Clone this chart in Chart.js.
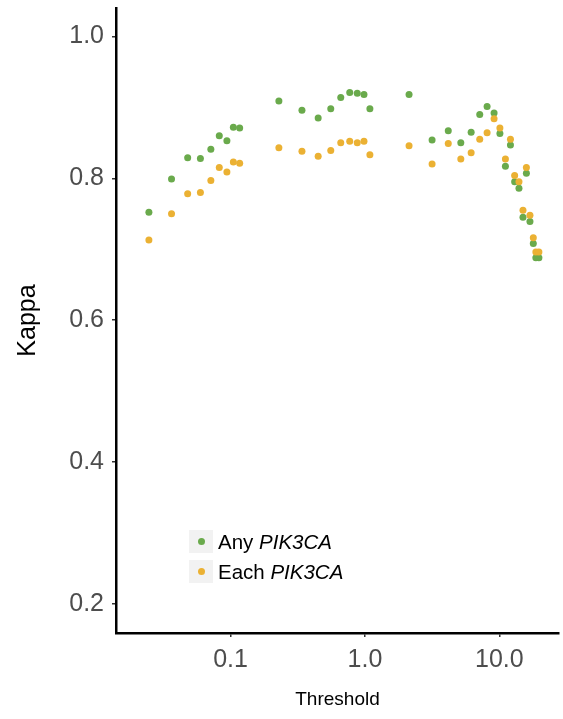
<!DOCTYPE html>
<html>
<head>
<meta charset="utf-8">
<script src="https://cdn.jsdelivr.net/npm/chart.js@4.4.1/dist/chart.umd.min.js"></script>
<style>
  body { margin: 0; background: #fff; }
  #wrap { position: relative; width: 563px; height: 719px; }
  #legend { position: absolute; left: 189px; top: 530px; font-family: "Liberation Sans", Arial, sans-serif; font-size: 20.5px; color: #000; }
  .row { display: flex; align-items: center; height: 23px; margin-bottom: 7px; }
  .key { width: 24px; height: 23px; background: #f2f2f2; position: relative; margin-right: 5px; }
  .key span { position: absolute; left: 9px; top: 8px; width: 7px; height: 7px; border-radius: 50%; }
</style>
</head>
<body>
<div id="wrap">
  <canvas id="mycanvas" width="563" height="719"></canvas>
  <div id="legend">
    <div class="row"><div class="key"><span style="background:#6aaa4c"></span></div>Any&nbsp;<i>PIK3CA</i></div>
    <div class="row"><div class="key"><span style="background:#ebb133"></span></div>Each&nbsp;<i>PIK3CA</i></div>
  </div>
</div>
<script>
// thresholds (log scale)
var thresholds = [0.0247, 0.0364, 0.048, 0.0597, 0.0714, 0.0825, 0.094, 0.105, 0.117, 0.229, 0.340,
  0.449, 0.557, 0.661, 0.771, 0.877, 0.984, 1.089, 2.13, 3.16, 4.17, 5.17, 6.17, 7.15, 8.11, 9.14,
  10.1, 11.1, 12.1, 13.0, 14.0, 15.0, 15.9, 16.9, 17.9, 18.7, 19.7];

var anyKappa = [0.752, 0.799, 0.829, 0.828, 0.841, 0.860, 0.853, 0.872, 0.871, 0.909, 0.896,
  0.885, 0.898, 0.914, 0.921, 0.920, 0.918, 0.898, 0.918, 0.854, 0.867, 0.850, 0.865, 0.890, 0.901, 0.892,
  0.863, 0.817, 0.847, 0.795, 0.786, 0.745, 0.807, 0.739, 0.708, 0.688, 0.688];

var eachKappa = [0.713, 0.750, 0.778, 0.780, 0.797, 0.815, 0.809, 0.823, 0.821, 0.843, 0.838,
  0.831, 0.839, 0.850, 0.852, 0.850, 0.852, 0.833, 0.846, 0.820, 0.849, 0.827, 0.836, 0.855, 0.864, 0.884,
  0.871, 0.827, 0.855, 0.804, 0.795, 0.755, 0.815, 0.748, 0.716, 0.696, 0.696];

var xTicks = [0.1, 1, 10];
var xTickLabels = ["0.1", "1.0", "10.0"];
var yTicks = [0.2, 0.4, 0.6, 0.8, 1.0];
var yTickLabels = ["0.2", "0.4", "0.6", "0.8", "1.0"];

function toPoints(xs, ys) {
  var pts = [];
  for (var i in xs) {
    pts.push({x: xs[i], y: ys[i]});
  }
  return pts;
}

var chartdata = {
  datasets: [
    {
      label: "Each PIK3CA",
      data: toPoints(thresholds, eachKappa),
      backgroundColor: "#ebb133",
      borderWidth: 0,
      pointRadius: 3.5
    },
    {
      label: "Any PIK3CA",
      data: toPoints(thresholds, anyKappa),
      backgroundColor: "#6aaa4c",
      borderWidth: 0,
      pointRadius: 3.5
    }
  ]
};

var ctx = document.getElementById("mycanvas");
var tickFont = {family: "'Liberation Sans', Arial, sans-serif", size: 25};

new Chart(ctx, {
  type: 'scatter',
  data: chartdata,
  options: {
    responsive: false,
    animation: false,
    layout: {padding: {top: 8, right: 3, left: 0, bottom: 0}},
    plugins: {legend: {display: false}, tooltip: {enabled: false}},
    scales: {
      x: {
        type: 'logarithmic',
        min: 0.01406,
        max: 27.8,
        afterBuildTicks: function(scale) {
          scale.ticks = xTicks.map(function(v) { return {value: v}; });
        },
        afterFit: function(scale) {
          scale.height = 86;
          scale.paddingLeft = 0;
          scale.paddingRight = 0;
        },
        ticks: {
          color: "#4d4d4d",
          font: tickFont,
          padding: 8,
          maxRotation: 0,
          autoSkip: false,
          callback: function(value) { return xTickLabels[xTicks.indexOf(value)]; }
        },
        grid: {drawOnChartArea: false, color: "#333", lineWidth: 1.5, tickLength: 4},
        border: {display: true, color: "#000", width: 2.5},
        title: {
          display: true,
          text: "Threshold",
          color: "#000",
          font: {family: "'Liberation Sans', Arial, sans-serif", size: 19},
          padding: {top: 0, bottom: 8}
        }
      },
      y: {
        min: 0.159,
        max: 1.040,
        afterBuildTicks: function(scale) {
          scale.ticks = yTicks.map(function(v) { return {value: v}; });
        },
        afterFit: function(scale) {
          scale.width = 116;
          scale.paddingTop = 0;
          scale.paddingBottom = 0;
        },
        ticks: {
          color: "#4d4d4d",
          font: tickFont,
          padding: 8,
          callback: function(value) { return yTickLabels[yTicks.indexOf(value)]; }
        },
        grid: {drawOnChartArea: false, color: "#333", lineWidth: 1.5, tickLength: 4},
        border: {display: true, color: "#000", width: 2.5},
        title: {
          display: true,
          text: "Kappa",
          color: "#000",
          font: {family: "'Liberation Sans', Arial, sans-serif", size: 25},
          padding: {top: 13, bottom: 0}
        }
      }
    }
  }
});
</script>
</body>
</html>
